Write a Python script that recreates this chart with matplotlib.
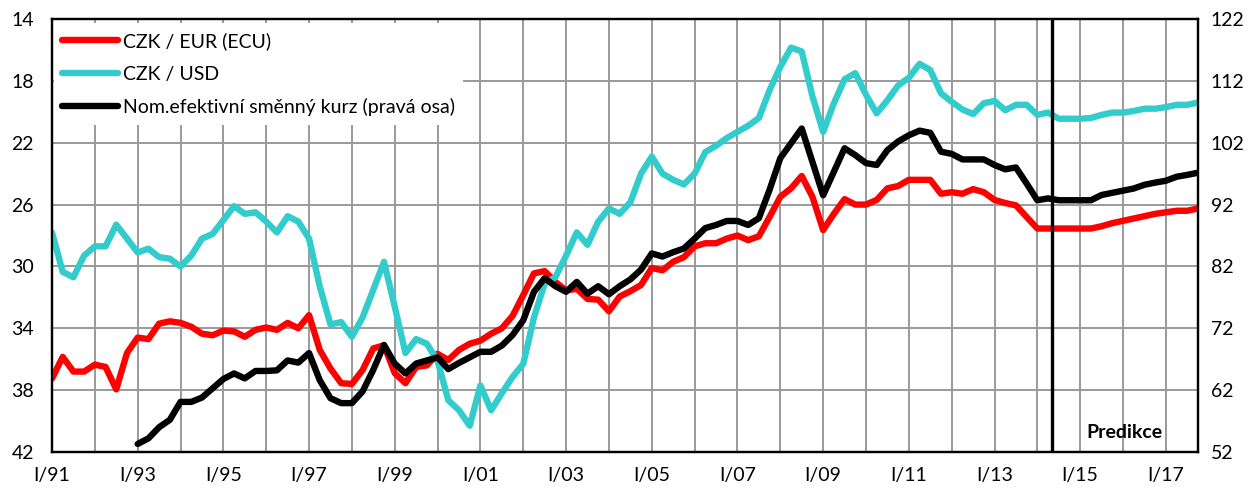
import matplotlib
matplotlib.use("Agg")
import matplotlib.pyplot as plt
import numpy as np

plt.rcParams["font.family"] = ["Lato", "DejaVu Sans"]

# quarterly data, I/1991 .. IV/2017
czk_eur = [37.25, 35.85, 36.8, 36.8, 36.35, 36.5, 37.95, 35.6,
           34.6, 34.7, 33.7, 33.55, 33.65, 33.9, 34.35, 34.45,
           34.15, 34.2, 34.55, 34.1, 33.95, 34.1, 33.65, 34.0,
           33.15, 35.4, 36.6, 37.55, 37.6, 36.7, 35.3, 35.1,
           36.9, 37.55, 36.5, 36.4, 35.65, 36.05, 35.4, 35.0,
           34.8, 34.35, 34.0, 33.2, 31.85, 30.45, 30.3, 31.0,
           31.55, 31.45, 32.1, 32.15, 32.9, 31.95, 31.6, 31.2,
           30.1, 30.25, 29.7, 29.4, 28.7, 28.5, 28.5, 28.2,
           28.0, 28.3, 28.05, 26.8, 25.5, 24.95, 24.15, 25.5,
           27.65, 26.6, 25.65, 26.0, 26.0, 25.7, 24.95, 24.8,
           24.4, 24.4, 24.4, 25.3, 25.2, 25.3, 25.0, 25.2,
           25.7, 25.9, 26.05, 26.8, 27.55, 27.55, 27.55, 27.55,
           27.55, 27.55, 27.4, 27.2, 27.05, 26.9, 26.75, 26.6,
           26.5, 26.4, 26.4, 26.25]
czk_usd = [27.8, 30.35, 30.7, 29.3, 28.7, 28.7, 27.3, 28.2,
           29.1, 28.85, 29.4, 29.5, 30.0, 29.3, 28.2, 27.9,
           27.0, 26.1, 26.6, 26.5, 27.1, 27.8, 26.75, 27.1,
           28.2, 31.3, 33.75, 33.6, 34.55, 33.3, 31.5, 29.7,
           32.6, 35.6, 34.7, 35.0, 36.1, 38.65, 39.3, 40.3,
           37.7, 39.3, 38.2, 37.15, 36.3, 33.3, 31.1, 30.7,
           29.3, 27.8, 28.6, 27.1, 26.25, 26.6, 25.85, 24.0,
           22.9, 24.0, 24.4, 24.7, 24.0, 22.6, 22.2, 21.7,
           21.3, 20.9, 20.4, 18.6, 17.1, 15.85, 16.1, 19.0,
           21.3, 19.45, 17.9, 17.5, 18.9, 20.1, 19.25, 18.3,
           17.8, 16.9, 17.3, 18.8, 19.35, 19.85, 20.15, 19.45,
           19.3, 19.9, 19.55, 19.55, 20.2, 20.05, 20.45, 20.45,
           20.45, 20.4, 20.2, 20.05, 20.05, 19.95, 19.8, 19.8,
           19.7, 19.55, 19.55, 19.4]
# nominal effective exchange rate, I/1993 .. IV/2017 (right axis)
neer = [53.3, 54.2, 56.0, 57.2, 60.1, 60.1, 60.8, 62.3,
        63.8, 64.7, 63.9, 65.1, 65.1, 65.2, 66.8, 66.45,
        68.0, 63.6, 60.7, 59.9, 59.9, 61.8, 65.3, 69.3,
        66.3, 64.7, 66.3, 66.8, 67.3, 65.4, 66.4, 67.3,
        68.2, 68.2, 69.2, 70.9, 73.3, 77.9, 80.1, 78.8,
        77.9, 79.5, 77.6, 78.8, 77.5, 78.8, 79.9, 81.5,
        84.1, 83.6, 84.3, 84.9, 86.5, 88.2, 88.7, 89.35,
        89.35, 88.7, 89.8, 94.4, 99.5, 101.9, 104.3, 98.9,
        93.5, 97.3, 101.1, 100.0, 98.7, 98.4, 100.8, 102.2,
        103.2, 103.95, 103.6, 100.55, 100.2, 99.3, 99.3, 99.3,
        98.4, 97.7, 98.0, 95.4, 92.7, 93.0, 92.7, 92.7,
        92.7, 92.7, 93.55, 93.9, 94.25, 94.6, 95.2, 95.55,
        95.85, 96.5, 96.8, 97.15]
years = list(range(1991, 2018))
forecast_start = 93.4  # position of the "Predikce" divider (quarter index)

x = np.arange(len(czk_eur))
x_neer = np.arange(len(czk_eur) - len(neer), len(czk_eur))

fig = plt.figure(figsize=(12.53, 4.88), dpi=100)
ax = fig.add_axes([52 / 1253, 36 / 488, 1146 / 1253, 433 / 488])
ax2 = ax.twinx()

grid_col = "#9a9a9a"
l1, = ax.plot(x, czk_eur, color="#ff0000", lw=4.6, solid_capstyle="round", zorder=3)
l2, = ax.plot(x, czk_usd, color="#33cccc", lw=4.6, solid_capstyle="round", zorder=3)
l3, = ax2.plot(x_neer, neer, color="black", lw=4.6, solid_capstyle="round", zorder=3)

ax.set_xlim(0, len(czk_eur) - 1)
ax.set_ylim(42, 14)
ax.set_yticks(range(14, 43, 4))
ax2.set_ylim(52, 122)
ax2.set_yticks(range(52, 123, 10))

# year ticks every 4 quarters, labels every second year
ticks = [4 * i for i in range(len(years))]
labels = [f"I/{y % 100:02d}" if (y - 1991) % 2 == 0 else "" for y in years]
ax.set_xticks(ticks)
ax.set_xticklabels(labels)
ax.grid(True, color=grid_col, lw=1.4, zorder=0)
ax.tick_params(axis="both", length=0, labelsize=14)
ax.tick_params(axis="x", pad=11)
ax.tick_params(axis="y", pad=13)
ax2.tick_params(axis="y", length=0, labelsize=14, pad=9)

for a in (ax, ax2):
    for s in a.spines.values():
        s.set_color("black")
        s.set_linewidth(1.6)

ax2.axvline(forecast_start, color="black", lw=2.4, zorder=4)
ax2.text(0.936, 0.044, "Predikce", transform=ax.transAxes, ha="center", va="center",
         fontsize=14, fontweight="bold")

leg = ax2.legend([l1, l2, l3],
                 ["CZK / EUR (ECU)", "CZK / USD", "Nom.efektivní směnný kurz (pravá osa)"],
                 loc="upper left", bbox_to_anchor=(0.0015, 0.99), fontsize=14,
                 frameon=True, fancybox=False, borderaxespad=0.0, borderpad=0.45,
                 handlelength=2.85, handletextpad=0.25, labelspacing=0.8)
leg.get_frame().set_facecolor("white")
leg.get_frame().set_edgecolor("none")
leg.get_frame().set_alpha(1.0)
leg.set_zorder(5)

fig.savefig("out.png", dpi=100)
